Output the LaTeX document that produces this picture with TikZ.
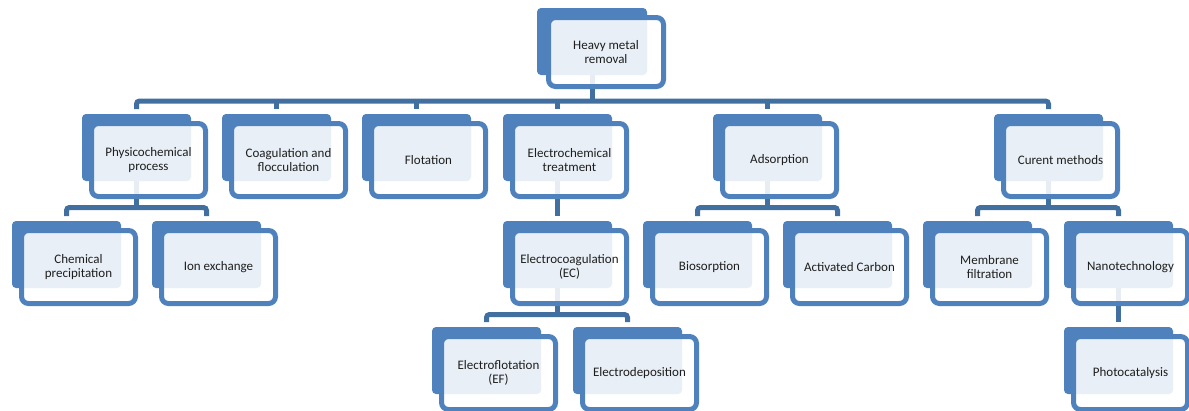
\documentclass[tikz,border=0pt]{standalone}
\usepackage{fontspec}
\setmainfont{Carlito}
\usetikzlibrary{calc}
\definecolor{backc}{RGB}{79,129,189}
\definecolor{connc}{RGB}{65,112,160}
\definecolor{txtc}{RGB}{30,30,30}
\pgfdeclarelayer{bg}
\pgfsetlayers{bg,main}
\tikzset{
  frontbox/.style={draw=backc, line width=5pt, rounded corners=7pt, fill=white, fill opacity=0.875, text opacity=1,
    minimum width=114pt, minimum height=73pt, inner sep=0pt, align=center, text=txtc,
    font=\fontsize{13}{14.7}\selectfont},
  backbox/.style={fill=backc, rounded corners=4pt},
  conn/.style={draw=connc, line width=5pt, rounded corners=3pt}
}
\newcommand\mkbox[4]{%
  \fill[backbox] (#2,#3) rectangle ++(109,67);
  \node[frontbox] (#1) at (#2+66.5,#3+46) {#4};
  \coordinate (#1-b) at (#2+54.5,#3+67);
  \coordinate (#1-d) at (#2+54.5,#3-5);
}
\begin{document}
\begin{tikzpicture}[x=1pt,y=-1pt]
\useasboundingbox (0,0) rectangle (1189,410);
\clip (0,0) rectangle (1189,410);
% top node
\fill[backbox] (537,8) rectangle (647,75);
\node[frontbox, minimum width=115pt, minimum height=69pt] (top) at (606,52) {Heavy metal\\removal};
\coordinate (top-b) at (592,75);
% row 2
\mkbox{phys}{82}{114}{Physicochemical\\process}
\mkbox{coag}{222}{114}{Coagulation and\\flocculation}
\mkbox{flot}{362}{114}{Flotation}
\mkbox{elec}{503}{114}{Electrochemical\\treatment}
\mkbox{ads}{713}{114}{Adsorption}
\mkbox{cur}{994}{114}{Curent methods}
% row 3
\mkbox{chem}{12}{221}{Chemical\\precipitation}
\mkbox{ion}{152}{221}{Ion exchange}
\mkbox{ec}{503}{221}{Electrocoagulation\\(EC)}
\mkbox{bio}{643}{221}{Biosorption}
\mkbox{act}{783}{221}{Activated Carbon}
\mkbox{mem}{923}{221}{Membrane\\filtration}
\mkbox{nano}{1064}{221}{Nanotechnology}
% row 4
\mkbox{ef}{432}{327}{Electroflotation\\(EF)}
\mkbox{ed}{573}{327}{Electrodeposition}
\mkbox{photo}{1064}{327}{Photocatalysis}
\coordinate (bar1) at (0,101);
\coordinate (bar2) at (0,207.5);
\coordinate (bar3) at (0,314.5);
\begin{pgfonlayer}{bg}
% level 1
\draw[conn] (phys-d) |- (cur-d |- bar1) -- (cur-d);
\draw[conn] (top-b) -- (top-b |- bar1);
\foreach \n in {coag,flot,elec,ads}{\draw[conn] (\n-d) -- (\n-d |- bar1);}
% physicochemical
\draw[conn] (chem-d) |- (ion-d |- bar2) -- (ion-d);
\draw[conn] (phys-b) -- (phys-b |- bar2);
% electrochemical
\draw[conn] (elec-b) -- (ec-d);
\draw[conn] (ef-d) |- (ed-d |- bar3) -- (ed-d);
\draw[conn] (ec-b) -- (ec-b |- bar3);
% adsorption
\draw[conn] (bio-d) |- (act-d |- bar2) -- (act-d);
\draw[conn] (ads-b) -- (ads-b |- bar2);
% current methods
\draw[conn] (mem-d) |- (nano-d |- bar2) -- (nano-d);
\draw[conn] (cur-b) -- (cur-b |- bar2);
\draw[conn] (nano-b) -- (photo-d);
\end{pgfonlayer}
\end{tikzpicture}
\end{document}
